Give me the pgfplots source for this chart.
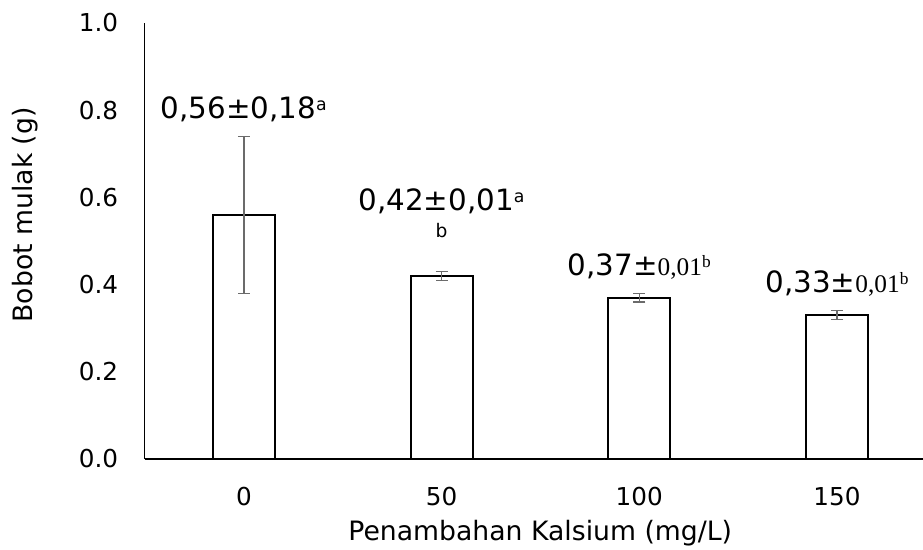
\documentclass[border=0pt]{standalone}
\usepackage{pgfplots}
\pgfplotsset{compat=1.18}
\usepackage{pgfplotstable}
\usepackage{fontspec}
\setmainfont{DejaVu Sans}
\newfontfamily\serif{Liberation Serif}
\newcommand\sa[1]{\raisebox{5.5pt}{\fontsize{13}{15}\selectfont #1}}

\pgfplotstableread{
x y e
0 0.56 0.18
1 0.42 0.01
2 0.37 0.01
3 0.33 0.01
}\datatable

\begin{document}
\begin{tikzpicture}
\begin{axis}[
  at={(0,0)}, anchor=south west,
  scale only axis, width=583.5pt, height=327pt,
  xmin=-0.5, xmax=3.435, ymin=0, ymax=1.0,
  ybar, bar width=46.5pt,
  axis x line*=bottom, axis y line*=left,
  axis line style={black, line width=0.75pt},
  x axis line style={line width=1pt},
  ytick={0,0.2,0.4,0.6,0.8,1.0},
  xtick={0,1,2,3}, xticklabels={0,50,100,150},
  major tick length=0pt,
  tick label style={font=\fontsize{18.5}{22}\selectfont, inner sep=0pt},
  yticklabel style={anchor=east, xshift=-20pt},
  xticklabel style={anchor=north, yshift=-21pt},
  xlabel={Penambahan Kalsium (mg/L)},
  xlabel style={at={(axis description cs:0.508,-0.188)}, anchor=base, font=\fontsize{20}{24}\selectfont},
  ylabel={Bobot mulak (g)},
  ylabel style={at={(axis description cs:-0.154,0.56)}, anchor=center, font=\fontsize{20}{24}\selectfont},
  clip=false,
  /pgf/number format/fixed,
  /pgf/number format/fixed zerofill,
  /pgf/number format/precision=1,
  /pgf/number format/assume math mode=true,
]
\addplot[fill=white, draw=black, line width=1.5pt,
  error bars/.cd, y dir=both, y explicit,
  error bar style={color=black!58, line width=1.1pt},
  error mark options={color=black!58, line width=1.1pt, mark size=4.5pt, rotate=90}]
  table[x=x, y=y, y error=e]{\datatable};

\node[anchor=base, inner sep=0pt, font=\fontsize{22}{26}\selectfont] at (axis cs:0,0.782) {0,56±0,18\sa{a}};
\node[anchor=base, inner sep=0pt, font=\fontsize{22}{26}\selectfont] at (axis cs:1,0.571) {0,42±0,01\sa{a}};
\node[anchor=base, inner sep=0pt, font=\fontsize{14}{16}\selectfont] at (axis cs:1,0.507) {b};
\node[anchor=base, inner sep=0pt, font=\fontsize{22}{26}\selectfont] at (axis cs:2,0.422) {0,37±{\serif\fontsize{19}{22}\selectfont 0,01\sa{b}}};
\node[anchor=base, inner sep=0pt, font=\fontsize{22}{26}\selectfont] at (axis cs:3,0.383) {0,33±{\serif\fontsize{19}{22}\selectfont 0,01\sa{b}}};
\end{axis}
\pgfresetboundingbox
\path[use as bounding box] (-108.75pt,-67.5pt) rectangle (583.5pt,344.25pt);
\end{tikzpicture}
\end{document}
